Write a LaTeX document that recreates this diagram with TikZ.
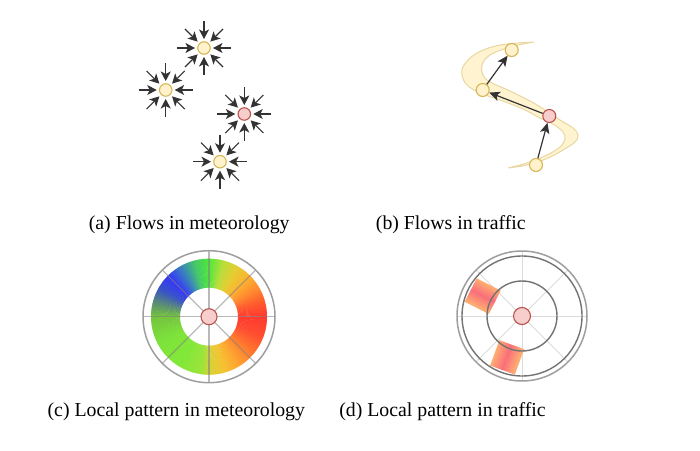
\documentclass[tikz,border=0pt]{standalone}
\usepackage{fontspec}
\setmainfont{Liberation Serif}
\usetikzlibrary{arrows.meta}
\definecolor{yfill}{HTML}{FFF2CC}
\definecolor{ydraw}{HTML}{D6B656}
\definecolor{rfill}{HTML}{F8CECC}
\definecolor{rdraw}{HTML}{B85450}
\definecolor{arrc}{HTML}{333333}
\definecolor{barE}{HTML}{FFB070}
\definecolor{barC}{HTML}{FA6E7A}
% ring colour stops
\definecolor{g0}{HTML}{FF3A30}
\definecolor{g15}{HTML}{FF5A2C}
\definecolor{g30}{HTML}{FF8A2E}
\definecolor{g45}{HTML}{FDB22F}
\definecolor{g60}{HTML}{E6CC32}
\definecolor{g75}{HTML}{B8DF3A}
\definecolor{g90}{HTML}{4FE83C}
\definecolor{g105}{HTML}{44C868}
\definecolor{g118}{HTML}{3A88B8}
\definecolor{g135}{HTML}{3438F8}
\definecolor{g150}{HTML}{3852C8}
\definecolor{g165}{HTML}{5A8A78}
\definecolor{g180}{HTML}{74C43E}
\definecolor{g210}{HTML}{7EE43A}
\definecolor{g240}{HTML}{82E838}
\definecolor{g262}{HTML}{9CE43A}
\definecolor{g272}{HTML}{D8D236}
\definecolor{g285}{HTML}{F4C432}
\definecolor{g300}{HTML}{FEA830}
\definecolor{g320}{HTML}{FF7A2E}
\definecolor{g340}{HTML}{FF4C30}
\definecolor{g360}{HTML}{FF3A30}
\begin{document}
\begin{tikzpicture}[x=1pt,y=1pt,
  ynode/.style={circle, fill=yfill, draw=ydraw, line width=1.1pt, minimum size=12.5pt, inner sep=0pt},
  rnode/.style={circle, fill=rfill, draw=rdraw, line width=1.1pt, minimum size=12.5pt, inner sep=0pt},
  flowarr/.style={draw=arrc, line width=1.1pt, -{Stealth[length=9.5pt,width=10pt,inset=2.5pt,fill=arrc]}},
  trafarr/.style={draw=arrc, line width=1.2pt, -{Stealth[length=10.5pt,width=9.5pt,inset=2.5pt,fill=arrc]}},
  bandst/.style={fill=yfill!92!white, draw=ydraw!55!white, line width=1pt},
  spokec/.style={draw=black!50, draw opacity=0.55, line width=1.2pt},
  spoked/.style={draw=black!14, line width=1pt},
  ringc/.style={draw=black!38, line width=1.5pt},
  ringd/.style={draw=black!55, line width=1.4pt},
  captxt/.style={anchor=base, inner sep=0pt, font=\fontsize{19.8}{24}\selectfont}]
\useasboundingbox (0,0) rectangle (700,450);

% ---------- (a) flows in meteorology ----------
\node[ynode] (m1) at (204,402) {};
\node[ynode] (m2) at (165.7,360) {};
\node[rnode] (m3) at (244.3,336) {};
\node[ynode] (m4) at (220,288.3) {};
\foreach \n in {m1,m2,m3,m4}{
  \foreach \a in {0,45,...,315}{
    \draw[flowarr] ([shift={(\a:27)}]\n.center) -- ([shift={(\a:9)}]\n.center);
  }
}

% ---------- (b) flows in traffic ----------
\path[bandst] plot[smooth, tension=0.6] coordinates {(534,408) (500,405) (477,397) (464,385) (462,375) (467,365) (480,357) (500,350) (523,341) (540,332) (553,326) (563,318) (565,311) (560,303) (547,295) (527,287) (508,282)}
  -- plot[smooth, tension=0.6] coordinates {(508,282) (527,285) (547,291.5) (563,300) (575,308) (578,315) (573,322) (560,330) (545,340) (530,349) (510,359) (490,368) (483,375) (482,385) (490,395) (510,403) (534,408)} -- cycle;
\node[ynode, minimum size=13pt] (t1) at (511.7,400) {};
\node[ynode, minimum size=13pt] (t2) at (482.7,360) {};
\node[rnode, minimum size=13pt] (t3) at (549.3,334) {};
\node[ynode, minimum size=13pt] (t4) at (536,285) {};
\draw[trafarr] (t4) -- (t3);
\draw[trafarr] (t3) -- (t2);
\draw[trafarr] (t2) -- (t1);

% ---------- (c) local pattern in meteorology ----------
\begin{scope}[shift={(209,133.3)}]
  \foreach \a/\b/\ca/\cb in {0/15/g0/g15, 15/30/g15/g30, 30/45/g30/g45, 45/60/g45/g60, 60/75/g60/g75, 75/90/g75/g90, 90/105/g90/g105, 105/118/g105/g118, 118/135/g118/g135, 135/150/g135/g150, 150/165/g150/g165, 165/180/g165/g180, 180/210/g180/g210, 210/240/g210/g240, 240/262/g240/g262, 262/272/g262/g272, 272/285/g272/g285, 285/300/g285/g300, 300/320/g300/g320, 320/340/g320/g340, 340/360/g340/g360}{
    \foreach \k in {0,...,9}{
      \pgfmathsetmacro\s{\a+(\b-\a)*\k/10}
      \pgfmathsetmacro\e{\a+(\b-\a)*(\k+1)/10+0.5}
      \pgfmathtruncatemacro\p{\k*10+5}
      \fill[\cb!\p!\ca] (\s:58) arc[start angle=\s, end angle=\e, radius=58] -- (\e:29) arc[start angle=\e, end angle=\s, radius=29] -- cycle;
    }
  }
  \foreach \a in {0,45,...,315}{
    \draw[spokec] (0,0) -- (\a:66);
  }
  \draw[ringc] (0,0) circle[radius=66];
\end{scope}
\node[rnode, minimum size=16pt] (c0) at (209,133.3) {};

% ---------- (d) local pattern in traffic ----------
\begin{scope}[shift={(522,134)}]
  \foreach \a in {0,45,...,315}{
    \draw[spoked] (0,0) -- (\a:65);
  }
  \foreach \ang in {153,250}{
    \begin{scope}[rotate=\ang]
      \foreach \k in {0,...,12}{
        \pgfmathsetmacro\ya{-13+2*\k}
        \pgfmathsetmacro\yb{-13+2*\k+2.3}
        \pgfmathtruncatemacro\p{abs((\k+0.5)/13*2-1)*100}
        \fill[barE!\p!barC] (30.5,\ya) rectangle (57.5,\yb);
      }
    \end{scope}
  }
  \draw[ringd] (0,0) circle[radius=35];
  \draw[ringd] (0,0) circle[radius=60];
  \draw[ringc] (0,0) circle[radius=65];
\end{scope}
\node[rnode, minimum size=17pt] (d0) at (522,134) {};

% ---------- captions ----------
\node[captxt] (capa) at (189.2,220.7) {(a) Flows in meteorology};
\node[captxt] (capb) at (450.8,220.7) {(b) Flows in traffic};
\node[captxt] (capc) at (176.3,33.3) {(c) Local pattern in meteorology};
\node[captxt] (capd) at (442.5,33.3) {(d) Local pattern in traffic};
\end{tikzpicture}
\end{document}
